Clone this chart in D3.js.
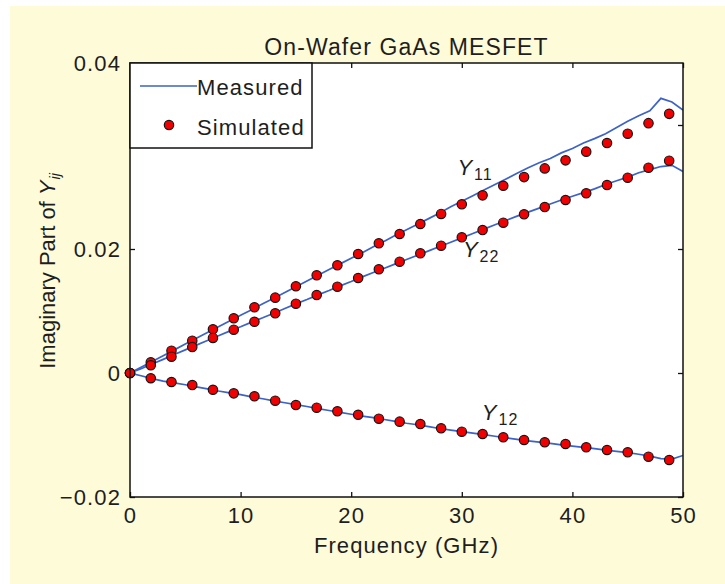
<!DOCTYPE html>
<html lang="en">
  <head>
    <meta charset="UTF-8" />
    <title>On-Wafer GaAs MESFET</title>
    <script src="https://cdn.jsdelivr.net/npm/d3@7"></script>
    <style>
      body {
        margin: 0;
        background: #fff;
      }
      svg text {
        font-family: "Liberation Sans", Arial, sans-serif;
        fill: #1e1e1e;
      }
      .wide {
        letter-spacing: 1.1px;
      }
    </style>
  </head>
  <body>
    <div id="chart"></div>

    <script>
      // frequency of the simulated points (GHz)
      const simFreq = [0, 1.88, 3.75, 5.63, 7.5, 9.38, 11.25, 13.13, 15, 16.88, 18.75, 20.63, 22.5, 24.38,
        26.25, 28.13, 30, 31.88, 33.75, 35.63, 37.5, 39.38, 41.25, 43.13, 45, 46.88, 48.75];
      const simY11 = [0, 0.00173, 0.0036, 0.00521, 0.00705, 0.00882, 0.0106, 0.01215, 0.01398, 0.01576,
        0.01737, 0.01919, 0.02092, 0.02242, 0.02403, 0.02565, 0.02721, 0.02865, 0.0302, 0.0316, 0.033,
        0.0343, 0.0357, 0.0371, 0.0386, 0.0403, 0.0418];
      const simY22 = [0, 0.00125, 0.00263, 0.00419, 0.00565, 0.00698, 0.00827, 0.00963, 0.01118, 0.01258,
        0.01392, 0.01532, 0.01673, 0.01795, 0.01931, 0.02053, 0.02189, 0.02306, 0.02424, 0.0256, 0.02677,
        0.0279, 0.02898, 0.03032, 0.0315, 0.03311, 0.03424];
      const simY12 = [0, -0.00085, -0.00145, -0.00194, -0.0027, -0.00328, -0.00376, -0.00447, -0.00516,
        -0.0056, -0.00618, -0.00673, -0.00737, -0.00785, -0.00823, -0.00892, -0.00947, -0.00984, -0.01037,
        -0.01081, -0.01118, -0.01145, -0.01198, -0.01242, -0.01279, -0.0135, -0.01403];

      // measured curves, read every GHz
      const measFreq = [0, 1, 2, 3, 4, 5, 6, 7, 8, 9, 10, 11, 12, 13, 14, 15, 16, 17, 18, 19, 20, 21, 22, 23,
        24, 25, 26, 27, 28, 29, 30, 31, 32, 33, 34, 35, 36, 37, 38, 39, 40, 41, 42, 43, 44, 45, 46, 47, 48, 49, 50];
      const measY11 = [0, 0.00093, 0.00186, 0.00279, 0.00373, 0.00466, 0.0056, 0.00652, 0.00745, 0.0084,
        0.0093, 0.01022, 0.01115, 0.01205, 0.013, 0.0139, 0.01485, 0.01575, 0.0167, 0.0176, 0.0185, 0.0194,
        0.02035, 0.02125, 0.0222, 0.0231, 0.024, 0.0249, 0.0258, 0.0268, 0.0277, 0.0286, 0.0295, 0.0304,
        0.0313, 0.0322, 0.0331, 0.0339, 0.0346, 0.0355, 0.0362, 0.0371, 0.0378, 0.0386, 0.0396, 0.0406,
        0.0415, 0.0423, 0.0443, 0.0437, 0.0424];
      const measY22 = [0, 0.0007, 0.00145, 0.0022, 0.00298, 0.00373, 0.0045, 0.00525, 0.006, 0.00675,
        0.00745, 0.0082, 0.0089, 0.00965, 0.0104, 0.01115, 0.01185, 0.0126, 0.0133, 0.01405, 0.01475,
        0.0155, 0.0162, 0.0169, 0.0176, 0.0183, 0.019, 0.0197, 0.0204, 0.0211, 0.0218, 0.0225, 0.0232,
        0.0239, 0.0246, 0.0253, 0.02595, 0.0266, 0.02725, 0.0279, 0.0285, 0.0291, 0.0297, 0.0304, 0.031,
        0.0316, 0.0323, 0.0328, 0.0333, 0.0335, 0.0325];
      const measY12 = [0, -0.00045, -0.0009, -0.0013, -0.0016, -0.0019, -0.00225, -0.00255, -0.0029,
        -0.0032, -0.0035, -0.00385, -0.00415, -0.0045, -0.0048, -0.0051, -0.0054, -0.00575, -0.00605,
        -0.00635, -0.00665, -0.00695, -0.0072, -0.0075, -0.0078, -0.0081, -0.00835, -0.00865, -0.00895,
        -0.0092, -0.00945, -0.0097, -0.00995, -0.0102, -0.01045, -0.0107, -0.01095, -0.01115, -0.01135,
        -0.0116, -0.0118, -0.012, -0.0122, -0.01245, -0.01265, -0.01285, -0.0131, -0.0134, -0.0138,
        -0.0139, -0.0133];

      const xTicks = [0, 10, 20, 30, 40, 50];
      const yTicks = [-0.02, 0, 0.02, 0.04];
      const yTickLabels = ["\u22120.02", "0", "0.02", "0.04"];

      // curve labels: name, subscript, anchor (GHz, value)
      const curveNames = ["Y", "Y", "Y"];
      const curveSubs = ["11", "22", "12"];
      const curveLabelAt = [[29.6, 0.0319], [30.1, 0.0187], [31.8, -0.0076]];

      const width = 725, height = 584;
      const margin = { top: 63, right: 42, bottom: 87, left: 130 };
      const lineColor = "#3d62c8";
      const dotR = 4.7;

      const svg = d3.select("#chart").append("svg")
        .attr("width", width)
        .attr("height", height);

      // yellow page with thin white strip on the left and top
      svg.append("rect")
        .attr("x", 10).attr("y", 6)
        .attr("width", width - 10).attr("height", height - 6)
        .attr("fill", "#fefbd8");

      const x = d3.scaleLinear().domain([0, 50]).range([margin.left, width - margin.right]);
      const y = d3.scaleLinear().domain([-0.02, 0.05]).range([height - margin.bottom, margin.top]);

      svg.append("rect")
        .attr("x", x(0)).attr("y", y(0.05))
        .attr("width", x(50) - x(0)).attr("height", y(-0.02) - y(0.05))
        .attr("fill", "#fff");

      svg.append("clipPath").attr("id", "plot-clip")
        .append("rect")
        .attr("x", x(0)).attr("y", y(0.05))
        .attr("width", x(50) - x(0)).attr("height", y(-0.02) - y(0.05));

      // axes (inward ticks, box style)
      svg.append("g")
        .attr("transform", `translate(0,${y(-0.02)})`)
        .call(d3.axisBottom(x).tickValues(xTicks).tickSizeInner(-5).tickSizeOuter(0).tickPadding(10));
      svg.append("g")
        .attr("transform", `translate(0,${y(0.05)})`)
        .call(d3.axisTop(x).tickValues(xTicks).tickSizeInner(-5).tickSizeOuter(0).tickFormat(""));
      const gy = svg.append("g")
        .attr("transform", `translate(${x(0)},0)`)
        .call(d3.axisLeft(y).tickValues(yTicks).tickSizeInner(-5).tickSizeOuter(0).tickPadding(9)
          .tickFormat((d, i) => yTickLabels[i]));
      svg.append("g")
        .attr("transform", `translate(${x(50)},0)`)
        .call(d3.axisRight(y).tickValues(yTicks).tickSizeInner(-5).tickSizeOuter(0).tickFormat(""));

      svg.selectAll(".domain").remove();
      svg.selectAll(".tick line").attr("stroke", "#111").attr("stroke-width", 1.3);
      svg.selectAll(".tick text").attr("font-size", 22).attr("class", "wide")
        .attr("font-family", null).attr("fill", null);
      // in the reference the 0.04 label sits at the top edge of the box
      gy.selectAll(".tick text").filter(d => d === 0.04)
        .attr("y", y(0.05) - y(0.04));

      const lineGen = d3.line()
        .x((d, i) => x(measFreq[i]))
        .y(d => y(d));

      const lines = svg.append("g").attr("clip-path", "url(#plot-clip)");
      [measY11, measY22, measY12].forEach(series => {
        lines.append("path")
          .datum(series)
          .attr("fill", "none")
          .attr("stroke", lineColor)
          .attr("stroke-width", 1.7)
          .attr("d", lineGen);
      });

      const dots = svg.append("g");
      [simY11, simY22, simY12].forEach(series => {
        dots.selectAll(null)
          .data(series)
          .join("circle")
          .attr("cx", (d, i) => x(simFreq[i]))
          .attr("cy", d => y(d))
          .attr("r", dotR)
          .attr("fill", "#f00000")
          .attr("stroke", "#151515")
          .attr("stroke-width", 1.2);
      });

      // curve labels
      curveNames.forEach((name, i) => {
        const t = svg.append("text")
          .attr("x", x(curveLabelAt[i][0]))
          .attr("y", y(curveLabelAt[i][1]))
          .attr("font-size", 22);
        t.append("tspan").attr("font-style", "italic").text(name);
        t.append("tspan").attr("class", "wide").attr("font-size", 16).attr("dx", 2).attr("dy", 5).text(curveSubs[i]);
      });

      // frame
      svg.append("rect")
        .attr("x", x(0)).attr("y", y(0.05))
        .attr("width", x(50) - x(0)).attr("height", y(-0.02) - y(0.05))
        .attr("fill", "none")
        .attr("stroke", "#111")
        .attr("stroke-width", 1.5);

      // legend
      const lg = svg.append("g").attr("transform", `translate(${x(0)},${y(0.05)})`);
      lg.append("rect")
        .attr("width", 182).attr("height", 85)
        .attr("fill", "#fff").attr("stroke", "#111").attr("stroke-width", 1.5);
      lg.append("line")
        .attr("x1", 10).attr("x2", 67).attr("y1", 23).attr("y2", 23)
        .attr("stroke", lineColor).attr("stroke-width", 1.7);
      lg.append("circle")
        .attr("cx", 39).attr("cy", 62).attr("r", dotR)
        .attr("fill", "#f00000").attr("stroke", "#151515").attr("stroke-width", 1.2);
      lg.append("text").attr("class", "wide").attr("x", 67).attr("y", 32)
        .attr("font-size", 22).text("Measured");
      lg.append("text").attr("class", "wide").attr("x", 67).attr("y", 72)
        .attr("font-size", 22).text("Simulated");

      // title and axis labels
      svg.append("text").attr("class", "wide")
        .attr("x", (x(0) + x(50)) / 2).attr("y", 55)
        .attr("text-anchor", "middle")
        .attr("font-size", 23)
        .text("On-Wafer GaAs MESFET");

      svg.append("text").attr("class", "wide")
        .attr("x", (x(0) + x(50)) / 2).attr("y", 553)
        .attr("text-anchor", "middle")
        .attr("font-size", 22)
        .text("Frequency (GHz)");

      const yl = svg.append("text")
        .attr("transform", `translate(55,${(y(-0.02) + y(0.05)) / 2 - 9}) rotate(-90)`)
        .attr("text-anchor", "middle")
        .attr("font-size", 22);
      yl.append("tspan").text("Imaginary Part of ");
      yl.append("tspan").attr("font-style", "italic").text("Y");
      yl.append("tspan").attr("font-style", "italic").attr("font-size", 14).attr("dx", 1).attr("dy", 5).text("ij");
    </script>
  </body>
</html>
